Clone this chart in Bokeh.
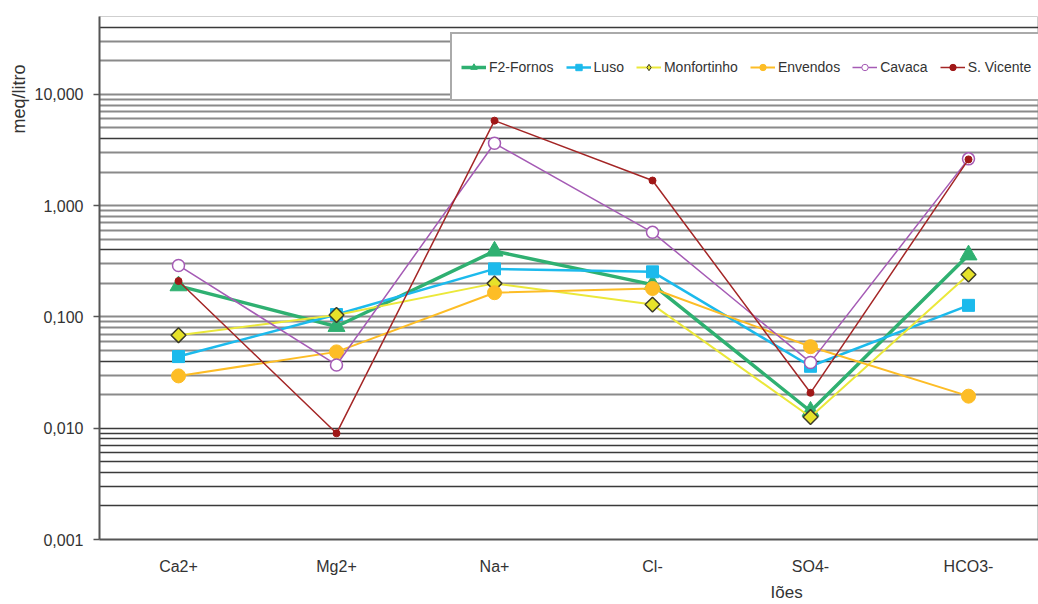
from bokeh.plotting import figure
from bokeh.models import (Range1d, FixedTicker, CustomJSTickFormatter, Grid,
                          Title, Legend, LegendItem, ColumnDataSource)
from bokeh.embed import file_html
from bokeh.resources import INLINE
import math

# ---------------- data ----------------
ions = ["Ca2+", "Mg2+", "Na+", "Cl-", "SO4-", "HCO3-"]
f2_fornos = [0.19, 0.082, 0.39, 0.195, 0.0142, 0.36]
luso = [0.044, 0.105, 0.27, 0.254, 0.036, 0.127]
monfortinho = [0.0685, 0.104, 0.20, 0.129, 0.0126, 0.24]
envendos = [0.0295, 0.0485, 0.165, 0.18, 0.054, 0.0194]
cavaca = [0.29, 0.037, 3.63, 0.575, 0.039, 2.63]
s_vicente = [0.21, 0.009, 5.8, 1.68, 0.0208, 2.6]

y_tick_values = [0.001, 0.01, 0.1, 1, 10]
y_tick_labels = ["0,001", "0,010", "0,100", "1,000", "10,000"]

x_pos = list(range(len(ions)))

# ---------------- figure ----------------
p = figure(width=1038, height=604, output_backend="svg", toolbar_location=None,
           y_axis_type="log",
           x_range=Range1d(-0.5, 5.443), y_range=Range1d(0.001, 50),
           min_border_left=99, min_border_right=0, min_border_top=16,
           min_border_bottom=65)
p.background_fill_color = "white"
p.border_fill_color = "white"
p.outline_line_color = "#cfcfcf"

# grid lines (every 1..9 x 10^k)
grid_vals = []
dark_vals = []
for k in range(-3, 2):
    for m in range(1, 10):
        v = m * 10 ** k
        if v <= 0.001 or v > 50:
            continue
        grid_vals.append(v)
        if k == -3 or m == 4 or (k == -2 and m == 1):
            dark_vals.append(v)
light_vals = [v for v in grid_vals if v not in dark_vals]

p.xgrid.grid_line_color = None
p.ygrid.ticker = FixedTicker(ticks=light_vals)
p.ygrid.grid_line_color = "#8a8a8a"
p.ygrid.grid_line_width = 1.8
g2 = Grid(dimension=1, ticker=FixedTicker(ticks=dark_vals),
          grid_line_color="#3a3a3a", grid_line_width=1.6)
p.add_layout(g2)

# axes
font = "Liberation Sans"
p.yaxis.ticker = FixedTicker(ticks=y_tick_values)
p.yaxis.formatter = CustomJSTickFormatter(
    args=dict(vals=y_tick_values, labs=y_tick_labels),
    code="""
    let best = 0, bd = 1e9;
    for (let i = 0; i < vals.length; i++) {
        const d = Math.abs(Math.log10(vals[i]) - Math.log10(tick));
        if (d < bd) { bd = d; best = i; }
    }
    return labs[best];
    """)
p.yaxis.minor_tick_line_color = None
p.yaxis.major_tick_out = 6
p.yaxis.major_tick_in = 0
p.yaxis.major_tick_line_color = "#555555"
p.yaxis.major_tick_line_width = 1.5
p.yaxis.axis_line_color = "#555555"
p.yaxis.axis_line_width = 2
p.yaxis.major_label_standoff = 10
p.yaxis.major_label_text_font = font
p.yaxis.major_label_text_font_size = "16px"
p.yaxis.major_label_text_color = "#333333"

p.xaxis.ticker = FixedTicker(ticks=x_pos)
p.xaxis.major_label_overrides = {i: n for i, n in zip(x_pos, ions)}
p.xaxis.major_tick_line_color = None
p.xaxis.minor_tick_line_color = None
p.xaxis.axis_line_color = "#555555"
p.xaxis.axis_line_width = 2
p.xaxis.major_label_standoff = 12
p.xaxis.major_label_text_font = font
p.xaxis.major_label_text_font_size = "16px"
p.xaxis.major_label_text_color = "#333333"

# ---------------- series ----------------
# name, values, line colour, line width, marker, size, fill, outline, outline width,
# angle, legend marker, legend marker size
series = [
    ("F2-Fornos", f2_fornos, "#2fb071", 3.5, "triangle", 17, "#2fb071", "#2fb071", 1, 0, "triangle", 9),
    ("Luso", luso, "#1cbaec", 2.5, "square", 12, "#1cbaec", "#1cbaec", 1, 0, "square", 7),
    ("Monfortinho", monfortinho, "#ebe83a", 2, "square", 10.5, "#e6e22a", "#3a3a2a", 1.5, math.pi / 4, "diamond", 9),
    ("Envendos", envendos, "#fdbd26", 2, "circle", 14, "#fdbd26", "#fdbd26", 1, 0, "circle", 9),
    ("Cavaca", cavaca, "#a55bb5", 1.5, "circle", 12, "white", "#a55bb5", 1.5, 0, "circle", 7),
    ("S. Vicente", s_vicente, "#a42626", 1.5, "circle", 7, "#a01818", "#a01818", 1, 0, "circle", 6),
]
items = []
for name, vals, col, lw, mk, sz, fc, lc, mlw, ang, lmk, lsz in series:
    r_line = p.line(x_pos, vals, line_color=col, line_width=lw)
    p.scatter(x_pos, vals, marker=mk, size=sz, fill_color=fc, line_color=lc,
              line_width=mlw, angle=ang)
    # legend-only marker (a single undefined point, draws nothing in the plot)
    r_leg = p.scatter("x", "y",
                      source=ColumnDataSource(dict(x=[float("nan")], y=[float("nan")])),
                      marker=lmk, size=lsz, fill_color=fc, line_color=lc,
                      line_width=1)
    items.append(LegendItem(label=name, renderers=[r_line, r_leg]))

leg = Legend(items=items)
leg.orientation = "horizontal"
leg.location = (351, 438)
leg.padding = 9
leg.label_height = 47
leg.glyph_height = 16
leg.glyph_width = 25
leg.label_standoff = 3
leg.spacing = 12
leg.margin = 0
leg.label_text_font = font
leg.label_text_font_size = "14px"
leg.label_text_color = "#333333"
leg.border_line_color = "#555555"
leg.border_line_width = 2
leg.background_fill_color = "white"
leg.background_fill_alpha = 1
p.add_layout(leg)

# axis titles
p.add_layout(Title(text="Iões", align="left", offset=671, standoff=6,
                   text_font=font, text_font_size="17px",
                   text_font_style="normal", text_color="#333333"), "below")
p.add_layout(Title(text="meq/litro", align="right", offset=48, standoff=6,
                   text_font=font, text_font_size="18px",
                   text_font_style="normal", text_color="#333333"), "left")

open("out.html", "w").write(file_html(p, INLINE))
